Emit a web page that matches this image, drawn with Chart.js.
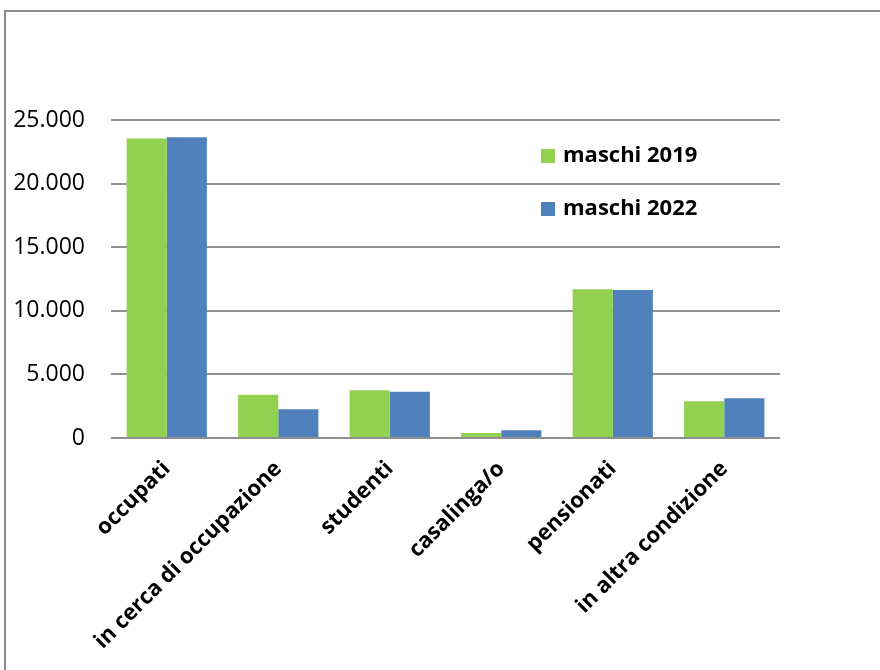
<!DOCTYPE html>
<html>
<head>
<meta charset="utf-8">
<script src="https://cdn.jsdelivr.net/npm/chart.js@4"></script>
<style>
  html, body { margin: 0; padding: 0; background: #fff; }
  #wrap { position: relative; width: 880px; height: 670px; overflow: hidden; }
  #frame { position: absolute; left: 4px; top: 10px; width: 900px; height: 700px; border: 2px solid #8c8c8c; box-sizing: border-box; }
  canvas { position: absolute; left: 0; top: 0; }
</style>
</head>
<body>
<div id="wrap">
  <div id="frame"></div>
  <canvas id="chart" width="880" height="670"></canvas>
</div>
<script>
const categories = ['occupati', 'in cerca di occupazione', 'studenti', 'casalinga/o', 'pensionati', 'in altra condizione'];
const maschi2019 = [23550, 3400, 3750, 390, 11700, 2890];
const maschi2022 = [23650, 2260, 3640, 600, 11630, 3120];
const yTicks = [0, 5000, 10000, 15000, 20000, 25000];

const FONT = "'Open Sans', sans-serif";

// formato italiano 25.000
function fmt(v) {
  return String(v).replace(/\B(?=(\d{3})+(?!\d))/g, '.');
}

// legenda dentro l'area del grafico
const insideLegend = {
  id: 'insideLegend',
  afterDraw(chart) {
    const ctx = chart.ctx;
    const area = chart.chartArea;
    ctx.save();
    ctx.font = 'bold 22px ' + FONT;
    ctx.textBaseline = 'middle';
    chart.data.datasets.forEach((ds, i) => {
      const x = area.right - 239;
      const y = area.top + 36 + i * 53;
      ctx.fillStyle = ds.backgroundColor;
      ctx.fillRect(x, y - 7, 14, 14);
      ctx.fillStyle = '#000';
      ctx.fillText(ds.label, x + 22, y);
    });
    ctx.restore();
  }
};

new Chart(document.getElementById('chart'), {
  type: 'bar',
  data: {
    labels: categories,
    datasets: [
      { label: 'maschi 2019', data: maschi2019, backgroundColor: '#92D050', borderWidth: 0 },
      { label: 'maschi 2022', data: maschi2022, backgroundColor: '#4F81BD', borderWidth: 0 }
    ]
  },
  options: {
    responsive: false,
    animation: false,
    layout: { padding: { top: 120, right: 100, left: 0, bottom: 0 } },
    datasets: { bar: { categoryPercentage: 0.72, barPercentage: 1 } },
    plugins: { legend: { display: false }, tooltip: { enabled: false } },
    scales: {
      x: {
        grid: { display: false },
        border: { display: false },
        ticks: {
          color: '#000',
          font: { family: FONT, size: 22, weight: 'bold' },
          maxRotation: 45,
          minRotation: 45,
          autoSkip: false,
          padding: 10
        },
        afterFit(scale) { scale.height = 670 - 438; }
      },
      y: {
        min: 0,
        max: 25000,
        afterBuildTicks(scale) { scale.ticks = yTicks.map(v => ({ value: v })); },
        grid: { color: '#8f8f8f', lineWidth: 2, drawTicks: false },
        border: { display: false },
        ticks: {
          color: '#000',
          font: { family: FONT, size: 23 },
          padding: 26,
          callback: v => fmt(v)
        },
        afterFit(scale) { scale.width = 111; }
      }
    }
  },
  plugins: [insideLegend]
});
</script>
</body>
</html>
